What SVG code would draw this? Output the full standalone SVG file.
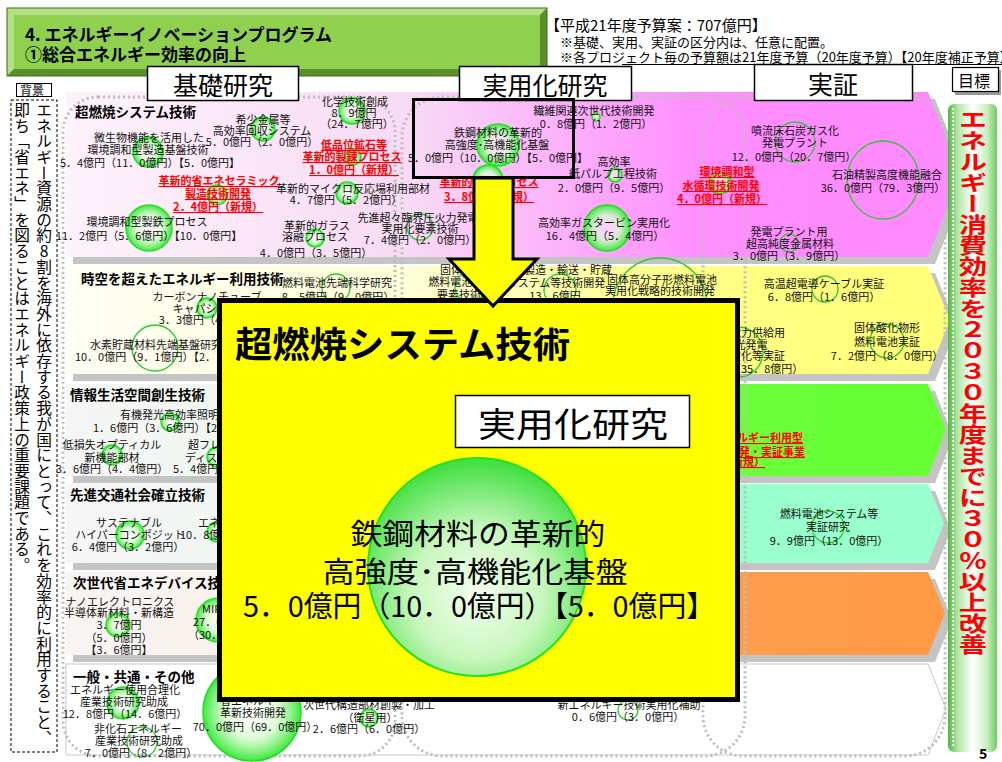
<svg xmlns="http://www.w3.org/2000/svg" width="1002" height="762" viewBox="0 0 1002 762">
<defs>
<style>
text{font-family:"Noto Sans CJK JP","Noto Sans CJK SC",sans-serif;}
.t{font-size:11px;text-anchor:middle;fill:#111}
.ts{font-size:11px;text-anchor:start;fill:#111}
.te{font-size:11px;text-anchor:end;fill:#111}
.red{fill:#ff0000;font-weight:bold;text-decoration:underline}
.h{font-size:13.5px;font-weight:bold;fill:#000}
.b{fill:url(#bub);stroke:#22e022;stroke-width:1.5}
.o{fill:none;stroke:#2fc72f;stroke-width:1.3}
.zone{fill:none;stroke:#bdbdbd;stroke-width:3;stroke-dasharray:2 3}
.sh{fill:#c4c4c4}
.col{fill:#fff;stroke:#000;stroke-width:1.5}
.colt{font-size:25px;text-anchor:middle;fill:#000}
</style>
<radialGradient id="bub" cx="0.5" cy="0.5" r="0.5">
<stop offset="0" stop-color="#ffffff" stop-opacity="0.4"/>
<stop offset="0.55" stop-color="#d4fbcc" stop-opacity="0.8"/>
<stop offset="1" stop-color="#3fe83f"/>
</radialGradient>
<radialGradient id="bigbub" cx="0.5" cy="0.62" r="0.6">
<stop offset="0" stop-color="#f4fff0"/>
<stop offset="0.5" stop-color="#c8f7bd"/>
<stop offset="1" stop-color="#44e044"/>
</radialGradient>
<linearGradient id="g1" x1="0" x2="1" y1="0" y2="0">
<stop offset="0" stop-color="#fdf3fb"/><stop offset="0.38" stop-color="#f8dbf5"/><stop offset="0.7" stop-color="#ff8fff"/><stop offset="1" stop-color="#ff88ff"/>
</linearGradient>
<linearGradient id="g2" x1="0" x2="1" y1="0" y2="0">
<stop offset="0" stop-color="#fefef4"/><stop offset="0.38" stop-color="#fefed8"/><stop offset="0.7" stop-color="#ffff88"/><stop offset="1" stop-color="#ffff77"/>
</linearGradient>
<linearGradient id="g3" x1="0" x2="1" y1="0" y2="0">
<stop offset="0" stop-color="#f5f6f5"/><stop offset="0.38" stop-color="#eef7ea"/><stop offset="0.72" stop-color="#6cff3c"/><stop offset="1" stop-color="#66ff33"/>
</linearGradient>
<linearGradient id="g4" x1="0" x2="1" y1="0" y2="0">
<stop offset="0" stop-color="#f5f6f5"/><stop offset="0.38" stop-color="#eef8f2"/><stop offset="0.72" stop-color="#99ffcc"/><stop offset="1" stop-color="#99ffcc"/>
</linearGradient>
<linearGradient id="g5" x1="0" x2="1" y1="0" y2="0">
<stop offset="0" stop-color="#f8f5f3"/><stop offset="0.38" stop-color="#fbeee4"/><stop offset="0.72" stop-color="#ff9f50"/><stop offset="1" stop-color="#ff9944"/>
</linearGradient>
<linearGradient id="gb" x1="0" x2="1" y1="0" y2="0">
<stop offset="0" stop-color="#4dbb3a"/><stop offset="0.2" stop-color="#b4e6a8"/><stop offset="0.5" stop-color="#ffffff"/><stop offset="0.8" stop-color="#c8efc0"/><stop offset="1" stop-color="#6ccc5a"/>
</linearGradient>
</defs>
<rect width="1002" height="762" fill="#ffffff"/>

<g id="bands">
<polygon class="sh" points="73,99 935,99 968,181 935,264 73,264"/>
<polygon fill="url(#g1)" points="66,92 928,92 961,174 928,257 66,257"/>
<polygon class="sh" points="73,273 935,273 957,327 935,381 73,381"/>
<polygon fill="url(#g2)" points="66,266 928,266 950,320 928,374 66,374"/>
<polygon class="sh" points="73,391 935,391 953,437 935,483 73,483"/>
<polygon fill="url(#g3)" points="66,384 928,384 946,430 928,476 66,476"/>
<polygon class="sh" points="73,491 935,491 951,530 935,570 73,570"/>
<polygon fill="url(#g4)" points="66,484 928,484 944,523 928,563 66,563"/>
<polygon class="sh" points="73,579 935,579 952,620 935,662 73,662"/>
<polygon fill="url(#g5)" points="66,572 928,572 945,613 928,655 66,655"/>
<polygon fill="#ffffff" stroke="#c8c8c8" stroke-width="1" points="66,664 928,664 946,709 928,755 66,755"/>
</g>

<g id="zones">
<rect class="zone" x="63" y="97" width="332" height="659" rx="35"/>
<rect class="zone" x="402" y="97" width="343" height="659" rx="40"/>
<rect class="zone" x="703" y="97" width="242" height="659" rx="40"/>
</g>

<g id="header">
<rect x="7" y="8" width="540" height="68" fill="#6fa83a"/>
<polygon points="7,8 547,8 540,15 14,15 14,69 7,76" fill="#b3e086"/>
<polygon points="547,8 547,76 7,76 14,69 540,69 540,15" fill="#5b8f2c"/>
<rect x="14" y="15" width="526" height="54" fill="#8fd14f"/>
<rect x="7" y="8" width="540" height="68" fill="none" stroke="#3d6a1c" stroke-width="1"/>
<text x="25" y="41" font-size="17" font-weight="bold">4. エネルギーイノベーションプログラム</text>
<text x="25" y="61" font-size="17" font-weight="bold">①総合エネルギー効率の向上</text>
</g>

<g id="notes">
<text x="545" y="31" font-size="15">【平成21年度予算案：707億円】</text>
<text x="560" y="47" font-size="13">※基礎、実用、実証の区分内は、任意に配置。</text>
<text x="560" y="62" font-size="13">※各プロジェクト毎の予算額は21年度予算（20年度予算）【20年度補正予算】</text>
<line x1="622" y1="64.5" x2="1002" y2="64.5" stroke="#000" stroke-width="1"/>
</g>

<g id="col-kiso"><rect class="col" x="147.5" y="66.5" width="151" height="34"/><text class="colt" x="223" y="95">基礎研究</text></g>
<g id="col-jitsuyo"><rect class="col" x="459.5" y="66.5" width="172" height="34"/><text class="colt" x="545" y="95">実用化研究</text></g>
<g id="col-jissho"><rect class="col" x="754.5" y="64.5" width="158" height="36"/><text class="colt" x="833" y="94">実証</text></g>
<g id="col-mokuhyo"><rect x="955" y="70" width="46" height="25" fill="#999"/><rect x="952.5" y="67.5" width="46" height="24" fill="#fff" stroke="#000" stroke-width="1.2"/><text x="958" y="87" font-size="16">目標</text></g>
<g id="col-haikei"><rect x="16.5" y="83.5" width="35" height="13" fill="#fff" stroke="#000" stroke-width="1"/><text x="20" y="95" font-size="12" font-weight="bold" fill="#555">背景</text></g>

<g id="background-text">
<rect x="11" y="100" width="46" height="652" fill="#fff" stroke="#000" stroke-width="1" stroke-dasharray="3 2"/>
<text x="44" y="102" font-size="15.7" style="writing-mode:vertical-rl;text-orientation:upright">エネルギー資源の約8割を海外に依存する我が国にとって、これを効率的に利用すること、</text>
<text x="22" y="102" font-size="15.7" style="writing-mode:vertical-rl;text-orientation:upright">即ち「省エネ」を図ることはエネルギー政策上の重要課題である。</text>
</g>

<g id="row1">
<text class="h" x="75" y="117">超燃焼システム技術</text>
<circle class="b" cx="148" cy="152" r="15"/>
<text class="t"><tspan x="149" y="142">微生物機能を活用した</tspan><tspan x="148" y="154">環境調和型製造基盤技術</tspan><tspan x="150" y="167">5．4億円（11．0億円）【5．0億円】</tspan></text>
<circle class="b" cx="263" cy="129" r="12"/>
<text class="t"><tspan x="263" y="124">希少金属等</tspan><tspan x="262" y="135">高効率回収システム</tspan><tspan x="262" y="146">5．0億円（2．0億円）</tspan></text>
<circle class="b" cx="352" cy="111" r="13"/>
<text class="t"><tspan x="355" y="106">化学技術創成</tspan><tspan x="354" y="117">8．9億円</tspan><tspan x="357" y="128">（24．7億円）</tspan></text>
<circle class="b" cx="353" cy="157" r="8"/>
<text class="t red"><tspan x="354" y="149">低品位鉱石等</tspan><tspan x="352" y="161">革新的製錬プロセス</tspan><tspan x="354" y="174">1．0億円（新規）</tspan></text>
<circle class="b" cx="217" cy="195" r="10"/>
<text class="t red"><tspan x="219" y="185">革新的省エネセラミック</tspan><tspan x="218" y="198">製造技術開発</tspan><tspan x="218" y="211">2．4億円（新規）</tspan></text>
<circle class="b" cx="347" cy="193" r="11"/>
<text class="t"><tspan x="353" y="193">革新的マイクロ反応場利用部材</tspan><tspan x="346" y="204">4．7億円（5．2億円）</tspan></text>
<circle class="b" cx="149" cy="228" r="23"/>
<text class="t"><tspan x="147" y="226">環境調和型製鉄プロセス</tspan><tspan x="149" y="240">11．2億円（5．6億円）【10．0億円】</tspan></text>
<circle class="b" cx="315" cy="238" r="9"/>
<text class="t"><tspan x="317" y="230">革新的ガラス</tspan><tspan x="315" y="241">溶融プロセス</tspan><tspan x="316" y="257">4．0億円（3．5億円）</tspan></text>
<circle class="o" cx="420" cy="227" r="13"/>
<text class="t"><tspan x="418" y="222">先進超々臨界圧火力発電</tspan><tspan x="420" y="233">実用化要素技術</tspan><tspan x="420" y="244">7．4億円（2．0億円）</tspan></text>
<circle class="b" cx="498" cy="145" r="21"/>
<text class="t"><tspan x="498" y="137">鉄鋼材料の革新的</tspan><tspan x="497" y="149">高強度･高機能化基盤</tspan><tspan x="498" y="162">5．0億円（10．0億円）【5．0億円】</tspan></text>
<circle class="b" cx="488" cy="180" r="15"/>
<text class="t red"><tspan x="489" y="186">革新的製銑プロセス</tspan><tspan x="489" y="201">3．8億円（新規）</tspan></text>
<circle class="b" cx="596" cy="117" r="4"/>
<text class="t"><tspan x="594" y="115">繊維関連次世代技術開発</tspan><tspan x="596" y="128">0．8億円（1．2億円）</tspan></text>
<circle class="b" cx="615" cy="175" r="7"/>
<text class="t"><tspan x="614" y="166">高効率</tspan><tspan x="613" y="178">紙パルプ工程技術</tspan><tspan x="614" y="192">2．0億円（9．5億円）</tspan></text>
<circle class="b" cx="607" cy="228" r="23"/>
<text class="t"><tspan x="604" y="227">高効率ガスタービン実用化</tspan><tspan x="605" y="240">16．4億円（5．4億円）</tspan></text>
<circle class="b" cx="720" cy="183" r="11"/>
<text class="t red"><tspan x="727" y="176">環境調和型</tspan><tspan x="721" y="190">水循環技術開発</tspan><tspan x="722" y="203">4．0億円（新規）</tspan></text>
<circle class="o" cx="795" cy="142" r="20"/>
<text class="t"><tspan x="795" y="135">噴流床石炭ガス化</tspan><tspan x="795" y="147">発電プラント</tspan><tspan x="794" y="161">12．0億円（20．7億円）</tspan></text>
<ellipse class="o" cx="883" cy="180" rx="36" ry="39"/>
<text class="t"><tspan x="887" y="179">石油精製高度機能融合</tspan><tspan x="883" y="192">36．0億円（79．3億円）</tspan></text>
<circle class="o" cx="789" cy="243" r="9"/>
<text class="t"><tspan x="789" y="236">発電プラント用</tspan><tspan x="790" y="248">超高純度金属材料</tspan><tspan x="789" y="260">3．0億円（3．9億円）</tspan></text>
<rect x="413.5" y="99.5" width="160" height="78" fill="none" stroke="#000" stroke-width="3"/>
</g>

<g id="row2">
<text class="h" x="81" y="284">時空を超えたエネルギー利用技術</text>
<circle class="o" cx="336" cy="288" r="14"/>
<text class="t"><tspan x="337" y="287">燃料電池先端科学研究</tspan><tspan x="338" y="301">8．5億円（9．0億円）</tspan></text>
<circle class="b" cx="207" cy="308" r="10"/>
<text class="t"><tspan x="207" y="301">カーボンナノチューブ</tspan><tspan x="200" y="313">キャパシタ</tspan><tspan x="215" y="324">3．3億円（4．0億円）</tspan></text>
<circle class="o" cx="155" cy="348" r="23"/>
<text class="t"><tspan x="156" y="349">水素貯蔵材料先端基盤研究</tspan><tspan x="165" y="361">10．0億円（9．1億円）【2．1億円】</tspan></text>
<circle class="o" cx="470" cy="287" r="15"/>
<text class="t"><tspan x="473" y="274">固体酸化物形</tspan><tspan x="472" y="286">燃料電池システム</tspan><tspan x="470" y="299">要素技術開発</tspan></text>
<circle class="o" cx="560" cy="290" r="16"/>
<text class="t"><tspan x="557" y="274">水素製造・輸送・貯蔵</tspan><tspan x="556" y="287">システム等技術開発</tspan><tspan x="555" y="300">13．6億円</tspan></text>
<circle class="o" cx="660" cy="305" r="47"/>
<text class="t"><tspan x="662" y="284">固体高分子形燃料電池</tspan><tspan x="660" y="295">実用化戦略的技術開発</tspan><tspan x="660" y="308">60．0億円（66．0億円）</tspan></text>
<circle class="o" cx="738" cy="352" r="25"/>
<text class="t"><tspan x="741" y="337">大規模電力供給用</tspan><tspan x="740" y="349">太陽光発電</tspan><tspan x="741" y="360">系統安定化等実証</tspan><tspan x="741" y="373">20．4億円（35．8億円）</tspan></text>
<circle class="o" cx="825" cy="289" r="13"/>
<text class="t"><tspan x="824" y="288">高温超電導ケーブル実証</tspan><tspan x="824" y="301">6．8億円（1．6億円）</tspan></text>
<circle class="o" cx="887" cy="341" r="17"/>
<text class="t"><tspan x="887" y="332">固体酸化物形</tspan><tspan x="887" y="346">燃料電池実証</tspan><tspan x="887" y="360">7．2億円（8．0億円）</tspan></text>
</g>

<g id="row3">
<text class="h" x="70" y="400">情報生活空間創生技術</text>
<circle class="b" cx="170" cy="422" r="9"/>
<text class="ts"><tspan x="120" y="419">有機発光高効率照明技術</tspan><tspan x="93" y="432">1．6億円（3．6億円）【2．0億円】</tspan></text>
<circle class="b" cx="112" cy="455" r="10"/>
<text class="t"><tspan x="112" y="449">低損失オプティカル</tspan><tspan x="112" y="462">新機能部材</tspan><tspan x="112" y="473">3．6億円（4．4億円）</tspan></text>
<circle class="b" cx="217" cy="457" r="10"/>
<text class="ts"><tspan x="188" y="449">超フレキシブル</tspan><tspan x="185" y="462">ディスプレイ</tspan><tspan x="173" y="473">5．4億円（2．0億円）</tspan></text>
<text class="te red"><tspan x="803" y="442">次世代高効率エネルギー利用型</tspan><tspan x="805" y="456">技術開発・実証事業</tspan><tspan x="765" y="466">2．0億円（新規）</tspan></text>
</g>

<g id="row4">
<text class="h" x="70" y="500">先進交通社会確立技術</text>
<circle class="b" cx="130" cy="535" r="14"/>
<text class="t"><tspan x="129" y="527">サステナブル</tspan><tspan x="130" y="539">ハイパーコンポジット</tspan><tspan x="128" y="551">6．4億円（3．2億円）</tspan></text>
<circle class="b" cx="217" cy="532" r="10"/>
<text class="ts"><tspan x="198" y="527">エネルギーITS</tspan><tspan x="180" y="539">10．8億円（6．6億円）</tspan></text>
<circle class="o" cx="828" cy="527" r="16"/>
<text class="t"><tspan x="829" y="518">燃料電池システム等</tspan><tspan x="828" y="531">実証研究</tspan><tspan x="829" y="545">9．9億円（13．0億円）</tspan></text>
</g>

<g id="row5">
<text class="h" x="73" y="588">次世代省エネデバイス技術</text>
<circle class="b" cx="118" cy="625" r="12"/>
<text class="t"><tspan x="120" y="606">ナノエレクトロニクス</tspan><tspan x="119" y="617">半導体新材料・新構造</tspan><tspan x="119" y="629">3．7億円</tspan><tspan x="119" y="642">（5．0億円）</tspan><tspan x="119" y="654">【3．6億円】</tspan></text>
<circle class="b" cx="218" cy="620" r="22"/>
<text class="ts"><tspan x="202" y="613">MIRAI</tspan><tspan x="193" y="626">27．0億円</tspan><tspan x="188" y="639">（30．0億円）</tspan></text>
</g>

<g id="row6">
<text class="h" x="73" y="682">一般・共通・その他</text>
<circle class="b" cx="123" cy="703" r="16"/>
<text class="t"><tspan x="125" y="694">エネルギー使用合理化</tspan><tspan x="124" y="706">産業技術研究助成</tspan><tspan x="125" y="718">12．8億円（14．6億円）</tspan></text>
<circle class="o" cx="142" cy="742" r="15"/>
<text class="t"><tspan x="138" y="733">非化石エネルギー</tspan><tspan x="139" y="745">産業技術研究助成</tspan><tspan x="141" y="757">7．0億円（8．2億円）</tspan></text>
<circle class="b" cx="252" cy="712" r="49"/>
<text class="t"><tspan x="253" y="705">省エネルギー</tspan><tspan x="253" y="717">革新技術開発</tspan><tspan x="255" y="731">70．0億円（69．0億円）</tspan></text>
<circle class="b" cx="369" cy="718" r="9"/>
<text class="t"><tspan x="369" y="709">次世代構造部材創製・加工</tspan><tspan x="370" y="722">（衛星用）</tspan><tspan x="369" y="733">2．6億円（6．0億円）</tspan></text>
<circle class="o" cx="628" cy="710" r="10"/>
<text class="t"><tspan x="629" y="709">新エネルギー技術実用化補助</tspan><tspan x="628" y="721">0．6億円（3．0億円）</tspan></text>
</g>

<g id="goal-bar">
<rect x="948" y="104" width="49" height="648" rx="6" fill="url(#gb)"/>
<line x1="953" y1="108" x2="953" y2="748" stroke="#ffffff" stroke-width="2" stroke-dasharray="2 2"/>
<g transform="translate(973 0) scale(1.35 1)">
<text x="0" y="109" font-size="21" font-weight="bold" fill="#ff0000" style="writing-mode:vertical-rl">エネルギー消費効率を２０３０年度までに３０％以上改善</text>
</g>
</g>

<g id="focus-box">
<rect x="219.5" y="300.5" width="518" height="399" fill="#ffff00" stroke="#000" stroke-width="5"/>
<text x="235" y="358" font-size="36" font-weight="bold" textLength="335" lengthAdjust="spacingAndGlyphs">超燃焼システム技術</text>
<rect x="455.5" y="395.5" width="234" height="52" fill="#fff" stroke="#000" stroke-width="1.5"/>
<text x="478" y="437" font-size="34" textLength="190" lengthAdjust="spacingAndGlyphs">実用化研究</text>
<circle cx="477" cy="567" r="109" fill="url(#bigbub)" stroke="#22e022" stroke-width="2"/>
<text x="478" y="545" font-size="29" text-anchor="middle" textLength="255" lengthAdjust="spacingAndGlyphs">鉄鋼材料の革新的</text>
<text x="475" y="583" font-size="29" text-anchor="middle" textLength="305" lengthAdjust="spacingAndGlyphs">高強度･高機能化基盤</text>
<text x="479" y="617" font-size="29" text-anchor="middle" textLength="472" lengthAdjust="spacingAndGlyphs">5．0億円（10．0億円）【5．0億円】</text>
</g>

<g id="connectors">
<polygon points="474,178 513,178 513,259 537,259 493,306 449,259 474,259" fill="#ffff00" stroke="#000" stroke-width="3" stroke-linejoin="miter"/>
</g>

<text x="979" y="759" font-size="14" font-weight="bold" font-family="Liberation Sans, sans-serif">5</text>
</svg>
